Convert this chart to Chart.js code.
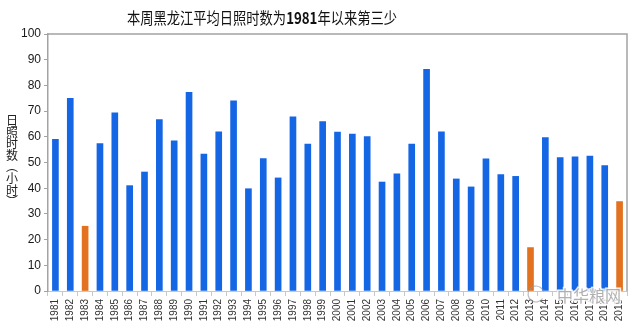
<!DOCTYPE html>
<html>
<head>
<meta charset="utf-8">
<script src="https://cdn.jsdelivr.net/npm/chart.js@4/dist/chart.umd.min.js"></script>
<style>
  html, body { margin: 0; padding: 0; background: #fff; }
  #wrap { width: 640px; height: 329px; position: relative; }
</style>
</head>
<body>
<div id="wrap"><canvas id="sunChart"></canvas></div>
<script>
// 黑龙江本周平均日照时数 (小时), 1981-2019
var years = ['1981','1982','1983','1984','1985','1986','1987','1988','1989','1990',
             '1991','1992','1993','1994','1995','1996','1997','1998','1999','2000',
             '2001','2002','2003','2004','2005','2006','2007','2008','2009','2010',
             '2011','2012','2013','2014','2015','2016','2017','2018','2019'];
var hours = [59, 75, 25.2, 57.4, 69.3, 41, 46.3, 66.7, 58.4, 77.3,
             53.3, 61.9, 74, 39.8, 51.5, 44, 67.8, 57.2, 65.9, 61.8,
             61.1, 60.1, 42.4, 45.6, 57.2, 86.3, 61.9, 43.6, 40.5, 51.4,
             45.3, 44.6, 16.9, 59.7, 51.9, 52.2, 52.5, 48.8, 34.8];
// 最少的三年用橙色标出
var lowYears = ['1983', '2013', '2019'];
var yTicks = [0, 10, 20, 30, 40, 50, 60, 70, 80, 90, 100];
var titleParts = [['本周黑龙江平均日照时数为', false], ['1981', true], ['年以来第三少', false]];
var yTitleChars = ['日', '照', '时', '数', '︵', '小', '时', '︶'];

var BLUE = '#1466e4';
var ORANGE = '#e2721f';
var CJK = '"Noto Sans CJK SC", "Noto Sans", sans-serif';

var barColors = years.map(function(y) {
    return lowYears.indexOf(y) >= 0 ? ORANGE : BLUE;
});

// 标题、纵轴标题、图框
var decorPlugin = {
    id: 'decor',
    afterDraw: function(chart) {
        var ctx = chart.ctx;
        var a = chart.chartArea;
        ctx.save();
        ctx.setTransform(1, 0, 0, 1, 0, 0);

        // 图框上边和右边
        ctx.strokeStyle = '#a3a3a3';
        ctx.lineWidth = 1.5;
        ctx.beginPath();
        ctx.moveTo(a.left, a.top);
        ctx.lineTo(a.right, a.top);
        ctx.lineTo(a.right, a.bottom);
        ctx.stroke();

        // 标题 (横向略压缩)
        var fonts = [];
        var total = 0;
        for (var i = 0; i < titleParts.length; i++) {
            var f = (titleParts[i][1] ? 'bold ' : '') + '16px ' + CJK;
            ctx.font = f;
            var w = ctx.measureText(titleParts[i][0]).width;
            fonts.push([f, w]);
            total += w;
        }
        var targetW = 270;
        var sx = targetW / total;
        ctx.save();
        ctx.translate(262 - targetW / 2, 18);
        ctx.scale(sx, 1);
        ctx.fillStyle = '#111';
        ctx.textBaseline = 'middle';
        ctx.textAlign = 'left';
        var x = 0;
        for (var j = 0; j < titleParts.length; j++) {
            ctx.font = fonts[j][0];
            ctx.fillText(titleParts[j][0], x, 0);
            x += fonts[j][1];
        }
        ctx.restore();

        // 纵轴标题, 竖排
        ctx.font = '12px ' + CJK;
        ctx.fillStyle = '#222';
        ctx.textAlign = 'center';
        ctx.textBaseline = 'middle';
        for (var k = 0; k < yTitleChars.length; k++) {
            ctx.fillText(yTitleChars[k], 12, 120.5 + k * 11.6);
        }

        // 水印
        ctx.font = '16px ' + CJK;
        ctx.textAlign = 'left';
        ctx.lineWidth = 3;
        ctx.strokeStyle = 'rgba(255,255,255,0.85)';
        ctx.strokeText('中华粮网', 557, 296);
        ctx.fillStyle = 'rgba(135,135,135,0.65)';
        ctx.fillText('中华粮网', 557, 296);
        ctx.beginPath();
        ctx.strokeStyle = 'rgba(150,150,150,0.65)';
        ctx.lineWidth = 1.2;
        ctx.arc(536, 294, 8, 0.6, Math.PI * 1.9);
        ctx.stroke();

        ctx.restore();
    }
};

var chart = new Chart(document.getElementById('sunChart'), {
    type: 'bar',
    data: {
        labels: years,
        datasets: [{
            data: hours,
            backgroundColor: barColors,
            borderWidth: 0,
            barThickness: 6
        }]
    },
    options: {
        responsive: true,
        maintainAspectRatio: false,
        animation: false,
        layout: { padding: { left: 0, right: 13, top: 34, bottom: 0 } },
        plugins: {
            legend: { display: false },
            tooltip: { enabled: false }
        },
        scales: {
            x: {
                grid: {
                    display: true,
                    offset: true,
                    drawOnChartArea: false,
                    tickLength: 5,
                    color: '#c8c8c8'
                },
                border: { display: true, color: '#c8c8c8', width: 1 },
                ticks: {
                    minRotation: 90,
                    maxRotation: 90,
                    autoSkip: false,
                    padding: 3,
                    color: '#333',
                    font: { family: '"Liberation Sans", Arial, sans-serif', size: 10 }
                },
                afterFit: function(scale) { scale.height = 38; }
            },
            y: {
                min: 0,
                max: 100,
                afterBuildTicks: function(scale) {
                    scale.ticks = yTicks.map(function(v) { return { value: v }; });
                },
                grid: {
                    display: true,
                    drawOnChartArea: false,
                    tickLength: 4,
                    color: '#a3a3a3'
                },
                border: { display: true, color: '#a3a3a3', width: 1.5 },
                ticks: {
                    padding: 3,
                    color: '#1a1a1a',
                    font: { family: '"Liberation Sans", Arial, sans-serif', size: 12 }
                },
                afterFit: function(scale) { scale.width = 48; }
            }
        }
    },
    plugins: [decorPlugin]
});
</script>
</body>
</html>
